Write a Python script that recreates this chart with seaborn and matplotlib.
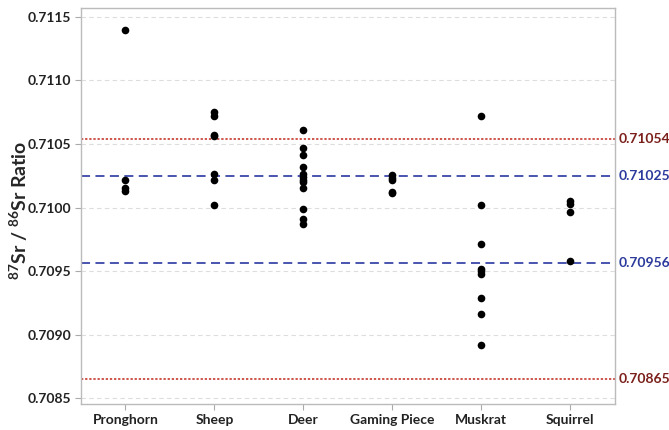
import numpy as np
import pandas as pd
import matplotlib
matplotlib.use("Agg")
import matplotlib.pyplot as plt
import seaborn as sns

categories = ["Pronghorn", "Sheep", "Deer", "Gaming Piece", "Muskrat", "Squirrel"]
pronghorn = [0.71140, 0.71022, 0.71015, 0.71013]
sheep = [0.71075, 0.71072, 0.71057, 0.71056, 0.71026, 0.71022, 0.71002]
deer = [0.71061, 0.71047, 0.71041, 0.71032, 0.71026, 0.71024, 0.71022, 0.71020,
        0.71015, 0.70999, 0.70991, 0.70987]
gaming_piece = [0.710255, 0.710235, 0.710214, 0.710126, 0.710111]
muskrat = [0.71072, 0.71002, 0.70971, 0.70952, 0.70950, 0.70948, 0.70929, 0.70916, 0.70892]
squirrel = [0.710055, 0.710025, 0.709962, 0.709577]
ref_red = [0.71054, 0.70865]
ref_blue = [0.71025, 0.70956]
y_ticks = [0.7085, 0.7090, 0.7095, 0.7100, 0.7105, 0.7110, 0.7115]

series = [pronghorn, sheep, deer, gaming_piece, muskrat, squirrel]
df = pd.DataFrame({
    "group": [c for c, s in zip(categories, series) for _ in s],
    "ratio": [v for s in series for v in s],
})

FONT = "Lato"
W = "bold"
sns.set_theme(style="white")
plt.rcParams["font.family"] = [FONT, "DejaVu Sans"]
plt.rcParams["mathtext.fontset"] = "custom"
plt.rcParams["mathtext.rm"] = f"{FONT}:bold"
plt.rcParams["mathtext.it"] = f"{FONT}:bold"
plt.rcParams["mathtext.bf"] = f"{FONT}:bold"
plt.rcParams["mathtext.default"] = "rm"

fig = plt.figure(figsize=(6.69, 4.30), dpi=100)
ax = fig.add_axes([0.121, 0.0605, 0.798, 0.9205])

for t in y_ticks:
    ax.axhline(t, color="#dddddd", lw=0.8, ls=(0, (4, 3)), zorder=0)

for v in ref_red:
    ax.axhline(v, color="#c0281e", lw=1.1, ls=(0, (1.5, 1.2)), zorder=1)
    ax.text(1.007, v, f"{v:.5f}", transform=ax.get_yaxis_transform(),
            color="#7a1f1a", fontsize=10, va="center", ha="left", fontweight=W)
for v in ref_blue:
    ax.axhline(v, color="#3a48a8", lw=1.3, ls=(0, (5, 3)), zorder=1)
    ax.text(1.007, v, f"{v:.5f}", transform=ax.get_yaxis_transform(),
            color="#2b3a9c", fontsize=10, va="center", ha="left", fontweight=W)

sns.stripplot(data=df, x="group", y="ratio", order=categories, jitter=False,
              color="black", size=5.5, linewidth=0, ax=ax, zorder=3)

ax.set_xlim(-0.5, 5.5)
ax.set_ylim(0.708455, 0.711568)
ax.set_yticks(y_ticks)
ax.set_yticklabels([f"{t:.4f}" for t in y_ticks])
ax.set_xlabel("")
ax.set_ylabel(r"$^{87}$Sr / $^{86}$Sr Ratio", fontsize=14, fontweight=W)
ax.yaxis.set_label_coords(-0.095, 0.49)

for sp in ax.spines.values():
    sp.set_color("#bbbbbb")
    sp.set_linewidth(1.0)

ax.tick_params(axis="both", which="major", length=4, width=0.8, color="#aaaaaa",
               labelsize=10, pad=3, bottom=True, left=True)
for lab in ax.get_xticklabels() + ax.get_yticklabels():
    lab.set_fontweight(W)
    lab.set_color("#222222")

fig.savefig("out.png", dpi=100)
